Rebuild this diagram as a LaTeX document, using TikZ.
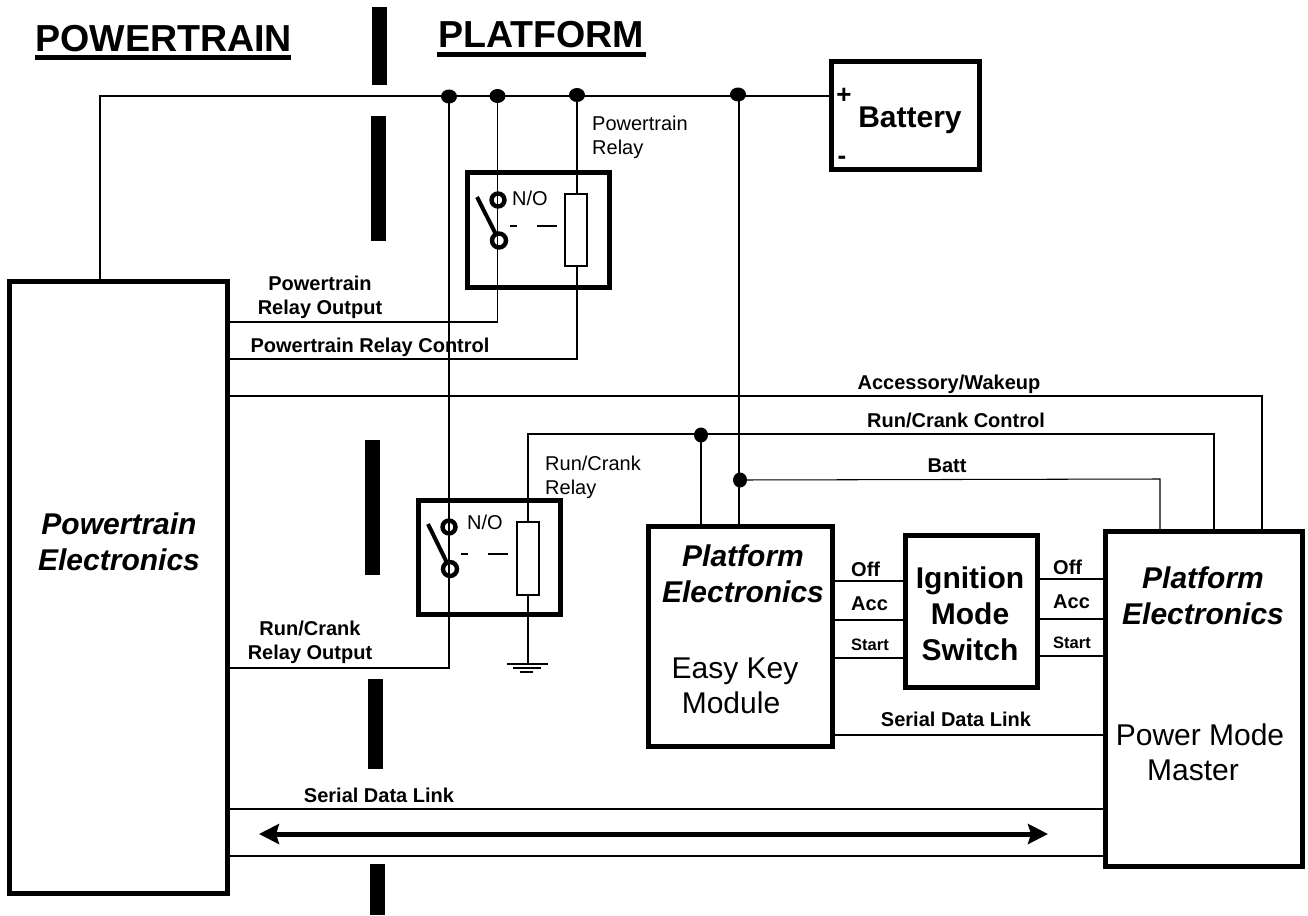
\documentclass[tikz,border=0pt]{standalone}
\usepackage{fontspec}
\setmainfont{Liberation Sans}
\usetikzlibrary{shapes.geometric,arrows.meta}
\newcommand{\fs}[2]{\fontsize{#1}{#2}\selectfont}
\tikzset{
  x=1pt,y=-1pt,
  wire/.style={line width=1.05pt,black},
  box/.style={draw=black,line width=5pt,fill=white,inner sep=0pt,outer sep=0pt,rectangle},
  coil/.style={draw=black,line width=2pt,fill=white,inner sep=0pt,outer sep=0pt,rectangle},
  bar/.style={fill=black,inner sep=0pt,outer sep=0pt,rectangle},
  dot/.style={ellipse,fill=black,inner sep=0pt,outer sep=0pt,minimum width=16pt,minimum height=14pt},
  cont/.style={circle,draw=black,line width=4.4pt,fill=none,inner sep=0pt,outer sep=0pt,minimum size=13pt},
  hd/.style={font=\bfseries\fs{37.6}{42},inner sep=0pt},
  big/.style={font=\bfseries\fs{30}{36},align=center,inner sep=0pt},
  bigi/.style={font=\bfseries\itshape\fs{30}{36},align=center,inner sep=0pt},
  reg/.style={font=\fs{30}{35},align=center,inner sep=0pt},
  lab/.style={font=\bfseries\fs{20}{24},align=center,inner sep=0pt},
  labs/.style={font=\bfseries\fs{16.5}{20},inner sep=0pt},
  sm/.style={font=\fs{20}{24},align=left,inner sep=0pt},
}
\begin{document}
\begin{tikzpicture}
\useasboundingbox (0,0) rectangle (1308,915);
\coordinate (gnd) at (528,664);
\node[dot] (j1) at (449,96.5) {};
\node[dot] (j2) at (497.5,96) {};
\node[dot] (j3) at (577,95) {};
\node[dot] (j4) at (738,94.5) {};
\node[dot,minimum width=14pt,minimum height=15pt] (j5) at (701,435) {};
\node[dot,minimum width=14pt,minimum height=15pt] (j6) at (740,480) {};

\coordinate (ptTop) at (100,282);
\coordinate (ptCor) at (100,96);
\coordinate (batIn) at (831,96);
\draw[wire] (ptTop) -- (ptCor) -- (batIn);
\coordinate (a1) at (449,668);
\coordinate (a2) at (226,668);
\draw[wire] (j1.center) -- (a1) -- (a2);
\coordinate (b1) at (497.5,322);
\coordinate (b2) at (226,322);
\draw[wire] (j2.center) -- (b1) -- (b2);
\coordinate (c1) at (577,359);
\coordinate (c2) at (226,359);
\draw[wire] (j3.center) -- (c1) -- (c2);
\coordinate (d1) at (226,396);
\coordinate (d2) at (1262,396);
\coordinate (d3) at (1262,531);
\draw[wire] (d1) -- (d2) -- (d3);
\coordinate (e1) at (528,566);
\coordinate (e2) at (528,434);
\coordinate (e3) at (1214,434);
\coordinate (e4) at (1214,531);
\draw[wire] (e1) -- (e2) -- (e3) -- (e4);
\coordinate (f1) at (701,526);
\draw[wire] (j5.center) -- (f1);
\coordinate (g1) at (739,526);
\draw[wire] (j4.center |- g1) -- (g1);
\draw[wire] (g1) -- (739,95);
\coordinate (h1) at (1160,479);
\coordinate (h2) at (1160,531);
\draw[wire] (j6.center) -- (h1) -- (h2);
\draw[wire] (e1) -- (gnd);
\coordinate (gl1) at (507,664); \coordinate (gr1) at (548,664);
\coordinate (gl2) at (513,668); \coordinate (gr2) at (541,668);
\coordinate (gl3) at (520,672); \coordinate (gr3) at (533,672);
\draw[wire] (gl1) -- (gr1);
\draw[wire] (gl2) -- (gr2);
\draw[wire] (gl3) -- (gr3);
% main boxes
\node[box,minimum width=218pt,minimum height=612pt] (pt) at (118,587) {};
\node[box,minimum width=148pt,minimum height=108pt] (bat) at (905.5,115.5) {};
\node[box,minimum width=184pt,minimum height=220pt] (ek) at (740.5,636.5) {};
\node[box,minimum width=132pt,minimum height=152pt] (ims) at (971.5,611.5) {};
\node[box,minimum width=197pt,minimum height=335pt] (pm) at (1204,699) {};
% signal wires
\draw[wire] (ek.east |- 0,581) -- (ims.west |- 0,581);
\draw[wire] (ek.east |- 0,620) -- (ims.west |- 0,620);
\draw[wire] (ek.east |- 0,658) -- (ims.west |- 0,658);
\draw[wire] (ims.east |- 0,579) -- (pm.west |- 0,579);
\draw[wire] (ims.east |- 0,619) -- (pm.west |- 0,619);
\draw[wire] (ims.east |- 0,656) -- (pm.west |- 0,656);
\draw[wire] (ek.east |- 0,735) -- (pm.west |- 0,735);
\draw[wire] (pt.east |- 0,809) -- (pm.west |- 0,809);
\draw[wire] (pt.east |- 0,856) -- (pm.west |- 0,856);
\coordinate (arL) at (259,834);
\coordinate (arR) at (1048,834);
\draw[line width=5pt,{Stealth[length=20pt,width=20pt,inset=3pt]}-{Stealth[length=20pt,width=20pt,inset=3pt]}] (arL) -- (arR);

% barrier bars
\node[bar,minimum width=15pt,minimum height=78pt] (bar1) at (379.5,46) {};
\node[bar,minimum width=15pt,minimum height=125pt] (bar2) at (378.5,178.5) {};
\node[bar,minimum width=15pt,minimum height=135pt] (bar3) at (372.5,507.5) {};
\node[bar,minimum width=15pt,minimum height=90pt] (bar4) at (375.5,724) {};
\node[bar,minimum width=15pt,minimum height=51pt] (bar5) at (377.5,889.5) {};

% relays
\node[box,fill=none,minimum width=142pt,minimum height=115pt] (r1) at (538.5,230) {};
\node[coil,minimum width=22pt,minimum height=72pt] (c1b) at (576,230) {};
\node[cont] (r1u) at (498,200) {};
\node[cont,minimum size=14pt] (r1l) at (499,240.5) {};
\coordinate (r1a) at (477,197);
\draw[line width=4pt] (r1a) -- (r1l);
\coordinate (r1d1) at (510,226); \coordinate (r1d2) at (517,226);
\coordinate (r1d3) at (537,226); \coordinate (r1d4) at (557,226);
\draw[wire] (r1d1) -- (r1d2);
\draw[wire] (r1d3) -- (r1d4);

\node[box,fill=none,minimum width=142pt,minimum height=114pt] (r2) at (489.5,557.5) {};
\node[coil,minimum width=22pt,minimum height=73pt] (c2b) at (527.5,558) {};
\node[cont] (r2u) at (449,527) {};
\node[cont,minimum size=14pt] (r2l) at (450,569) {};
\coordinate (r2a) at (428,524);
\draw[line width=4pt] (r2a) -- (r2l);
\coordinate (r2d1) at (461,554); \coordinate (r2d2) at (468,554);
\coordinate (r2d3) at (488,554); \coordinate (r2d4) at (508,554);
\draw[wire] (r2d1) -- (r2d2);
\draw[wire] (r2d3) -- (r2d4);

% headings
\node[hd,anchor=west] (t1) at (35,38.5) {POWERTRAIN};
\node[hd,anchor=west] (t2) at (438,35) {PLATFORM};
\coordinate (u1a) at (35,57.5); \coordinate (u1b) at (291,57.5);
\coordinate (u2a) at (437,54.5); \coordinate (u2b) at (646,54.5);
\draw[line width=5pt] (u1a) -- (u1b);
\draw[line width=5pt] (u2a) -- (u2b);

% box text
\node[big] (tb) at (910,120) {Battery};
\node[font=\bfseries\fs{26}{28},inner sep=0pt] (tp) at (844,96) {+};
\node[font=\bfseries\fs{26}{28},inner sep=0pt] (tm) at (842,160) {-};
\node[big] (tims) at (970,613.5) {Ignition\\Mode\\Switch};
\node[bigi] (tpt) at (119,542) {Powertrain\\Electronics};
\node[bigi] (tek) at (743,574) {Platform\\Electronics};
\node[reg] (tek2) at (735,671) {Easy Key};
\node[reg] (tek3) at (731,703) {Module};
\node[bigi] (tpm) at (1203,596) {Platform\\Electronics};
\node[reg] (tpm2) at (1200,735) {Power Mode};
\node[reg] (tpm3) at (1193,770) {Master};

% labels
\node[sm,anchor=west] (l1) at (592,137) {Powertrain\\Relay};
\node[sm,anchor=west] (l2) at (545,477) {Run/Crank\\Relay};
\node[sm,anchor=west] (no1) at (512,198) {N/O};
\node[sm,anchor=west] (no2) at (467,522) {N/O};
\node[lab] (l3) at (320,297) {Powertrain\\Relay Output};
\node[lab] (l4) at (370,347) {Powertrain Relay Control};
\node[lab] (l5) at (949,384) {Accessory/Wakeup};
\node[lab] (l6) at (956,420) {Run/Crank Control};
\node[lab] (l7) at (947,466) {Batt};
\node[lab] (l8) at (310,642) {Run/Crank\\Relay Output};
\node[lab] (l9) at (956,719) {Serial Data Link};
\node[lab] (l10) at (379,795) {Serial Data Link};
\node[lab,anchor=west] (o1) at (851,569) {Off};
\node[lab,anchor=west] (o2) at (851,604) {Acc};
\node[labs,anchor=west] (o3) at (851,645) {Start};
\node[lab,anchor=west] (o4) at (1053,567) {Off};
\node[lab,anchor=west] (o5) at (1053,602) {Acc};
\node[labs,anchor=west] (o6) at (1053,643) {Start};
\end{tikzpicture}
\end{document}
